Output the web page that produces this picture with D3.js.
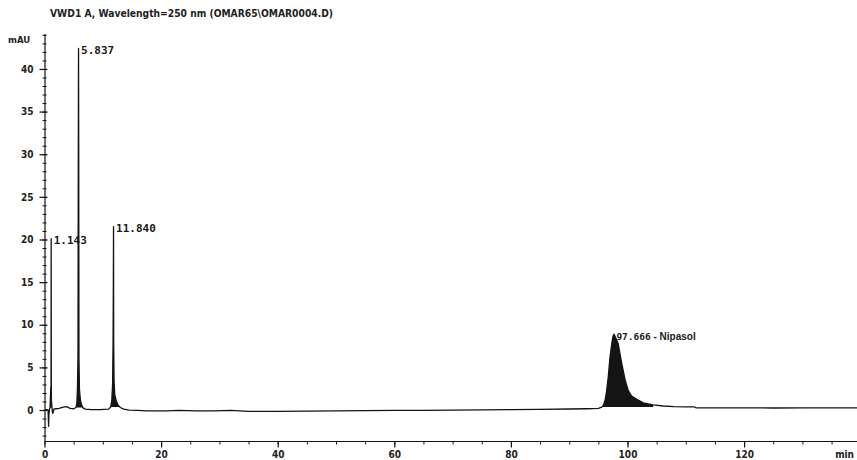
<!DOCTYPE html>
<html>
<head>
<meta charset="utf-8">
<script src="https://cdn.jsdelivr.net/npm/d3@7/dist/d3.min.js"></script>
<style>
  html, body { margin: 0; padding: 0; background: #fff; }
  svg { display: block; }
  .tick text { font-family: "Liberation Sans Narrow", "DejaVu Sans Condensed", sans-serif; font-weight: bold; font-size: 10px; fill: #222; }
</style>
</head>
<body>
<svg id="chart" width="857" height="460"></svg>
<script>
// Detector signal: retention time (min) and absorbance (mAU)
const timeMin = [
  0.00, 0.40, 0.62, 0.70, 0.76, 0.85, 0.95, 1.02, 1.08, 1.12, 1.143, 1.17, 1.25, 1.35, 1.45, 1.60, 1.90,
  2.50, 3.20, 3.80, 4.40, 5.00, 5.40, 5.55, 5.65, 5.74, 5.80, 5.837, 5.87, 5.91, 6.00, 6.15, 6.35, 6.60,
  7.00, 8.00, 9.50, 11.00, 11.35, 11.55, 11.68, 11.76, 11.81, 11.84, 11.87, 11.93, 12.05, 12.30, 12.60,
  13.00, 13.60, 14.50, 16.00, 17.50, 19.00, 21.00, 23.00, 26.00, 29.00, 32.00, 35.00, 40.00, 45.00,
  50.00, 55.00, 60.00, 65.00, 70.00, 75.00, 80.00, 85.00, 90.00, 93.00, 95.00, 95.60, 95.90, 96.20,
  96.40, 96.70, 97.00, 97.30, 97.50, 97.666, 97.90, 98.40, 99.00, 99.60, 100.10, 100.70, 101.60,
  102.70, 104.40, 106.10, 108.00, 110.00, 111.50, 111.80, 115.00, 120.00, 125.00, 130.00, 135.00, 140.00
];
const signalMAU = [
  0.00, 0.05, 0.00, -1.90, -0.60, 0.10, 0.30, 1.50, 2.70, 1.80, 20.1, 1.20, 0.60, -0.20, -0.40, 0.10, 0.15,
  0.20, 0.35, 0.40, 0.20, 0.15, 0.30, 0.80, 2.50, 6.00, 31.0, 42.4, 31.0, 6.00, 2.40, 1.20, 0.60, 0.25,
  0.10, 0.05, 0.05, 0.10, 0.35, 1.20, 3.00, 8.00, 15.0, 21.5, 8.00, 3.50, 1.80, 1.10, 0.60,
  0.30, 0.10, 0.00, -0.05, -0.10, -0.10, -0.10, -0.05, -0.10, -0.10, -0.05, -0.15, -0.15, -0.12,
  -0.10, -0.08, -0.05, -0.03, 0.00, 0.02, 0.05, 0.08, 0.12, 0.15, 0.20, 0.35, 0.60, 1.30,
  2.15, 3.90, 6.20, 7.80, 8.60, 8.90, 8.60, 7.80, 5.50, 3.50, 2.35, 1.65, 1.25,
  0.85, 0.60, 0.47, 0.40, 0.38, 0.36, 0.25, 0.25, 0.25, 0.24, 0.25, 0.25, 0.25
];

// Integrated peaks: apex time, label text, integration window (min)
const peakTimes  = [1.143, 5.837, 11.840, 97.666];
const peakLabels = ["1.143", "5.837", "11.840", "97.666"];
const peakNames  = ["", "", "", "Nipasol"];
const peakStart  = [0.95, 5.40, 11.35, 95.60];
const peakEnd    = [1.25, 6.60, 13.00, 104.40];

// Axis ticks
const yMajorTicks = [0, 5, 10, 15, 20, 25, 30, 35, 40];
const yMinorTicks = d3.range(-3, 45, 1);
const xMajorTicks = [0, 20, 40, 60, 80, 100, 120];
const xMinorTicks = d3.range(0, 141, 5);

const titleText = "VWD1 A, Wavelength=250 nm (OMAR65\\OMAR0004.D)";
const yUnit = "mAU";
const xUnit = "min";

const svg = d3.select("#chart");
const x = d3.scaleLinear().domain([0, 140]).range([44.5, 860.7]);
const y = d3.scaleLinear().domain([-3.75, 44.1]).range([442, 34]);

const trace = timeMin.map((t, i) => ({ t, v: signalMAU[i] }));
const ink = "#141414";

// Peak fills down to a flat integration baseline at the peak start level
peakTimes.forEach((pt, k) => {
  const s = peakStart[k], e = peakEnd[k];
  const seg = trace.filter(d => d.t >= s && d.t <= e);
  const v0 = seg[0].v;
  svg.append("path")
    .datum(seg)
    .attr("fill", ink)
    .attr("d", d3.area().x(d => x(d.t)).y0(y(v0)).y1(d => y(d.v)));
});

// Signal trace
svg.append("path")
  .datum(trace)
  .attr("fill", "none")
  .attr("stroke", ink)
  .attr("stroke-width", 1.3)
  .attr("stroke-linejoin", "round")
  .attr("d", d3.line().x(d => x(d.t)).y(d => y(d.v)));

// Y axis
svg.append("line").attr("x1", 45).attr("x2", 45).attr("y1", y.range()[1]).attr("y2", 442)
  .attr("stroke", ink).attr("stroke-width", 1.2);
svg.append("g").attr("transform", "translate(46.5,0)")
  .call(d3.axisLeft(y).tickValues(yMinorTicks).tickSize(4).tickFormat(""))
  .call(g => g.select(".domain").remove())
  .call(g => g.selectAll("line").attr("stroke", ink));
svg.append("g").attr("transform", "translate(47.5,0)")
  .call(d3.axisLeft(y).tickValues(yMajorTicks).tickSize(8).tickPadding(6).tickFormat(d3.format("d")))
  .call(g => g.select(".domain").remove())
  .call(g => g.selectAll("line").attr("stroke", ink).attr("stroke-width", 1.2));

// X axis
svg.append("line").attr("x1", 44.5).attr("x2", 857).attr("y1", 441.5).attr("y2", 441.5)
  .attr("stroke", ink).attr("stroke-width", 1.2);
svg.append("g").attr("transform", "translate(0,441.5)")
  .call(d3.axisBottom(x).tickValues(xMinorTicks).tickSize(3).tickFormat(""))
  .call(g => g.select(".domain").remove())
  .call(g => g.selectAll("line").attr("stroke", ink));
svg.append("g").attr("transform", "translate(0,441.5)")
  .call(d3.axisBottom(x).tickValues(xMajorTicks).tickSize(6).tickPadding(3).tickFormat(d3.format("d")))
  .call(g => g.select(".domain").remove())
  .call(g => g.selectAll("line").attr("stroke", ink).attr("stroke-width", 1.2));

// Units and title
const narrow = "'Liberation Sans Narrow', 'DejaVu Sans Condensed', sans-serif";
svg.append("text").attr("x", 854).attr("y", 458).attr("text-anchor", "end")
  .attr("font-family", narrow).attr("font-weight", "bold").attr("font-size", 10).attr("fill", "#222")
  .text(xUnit);
svg.append("text").attr("x", 8).attr("y", 43)
  .attr("font-family", narrow).attr("font-weight", "bold").attr("font-size", 9.5).attr("fill", "#222")
  .text(yUnit);
svg.append("text").attr("x", 50).attr("y", 17)
  .attr("font-family", narrow).attr("font-weight", "bold").attr("font-size", 10).attr("fill", "#222")
  .attr("textLength", 283).attr("lengthAdjust", "spacingAndGlyphs")
  .text(titleText);

// Peak labels next to each apex
const apexValue = t => trace.find(d => d.t === t).v;
peakTimes.forEach((pt, k) => {
  const tx = svg.append("text")
    .attr("x", x(pt) + 2.5)
    .attr("y", y(apexValue(pt)) + 5.5)
    .attr("font-family", "'DejaVu Sans Mono', 'Liberation Mono', monospace")
    .attr("font-weight", "bold")
    .attr("font-size", k === 3 ? 9.5 : 11)
    .attr("fill", "#1a1a1a");
  tx.append("tspan").text(peakLabels[k]);
  if (peakNames[k]) {
    tx.append("tspan")
      .attr("font-family", "'Liberation Sans', Arial, sans-serif")
      .attr("font-size", 10)
      .text(" - " + peakNames[k]);
  }
});
</script>
</body>
</html>
